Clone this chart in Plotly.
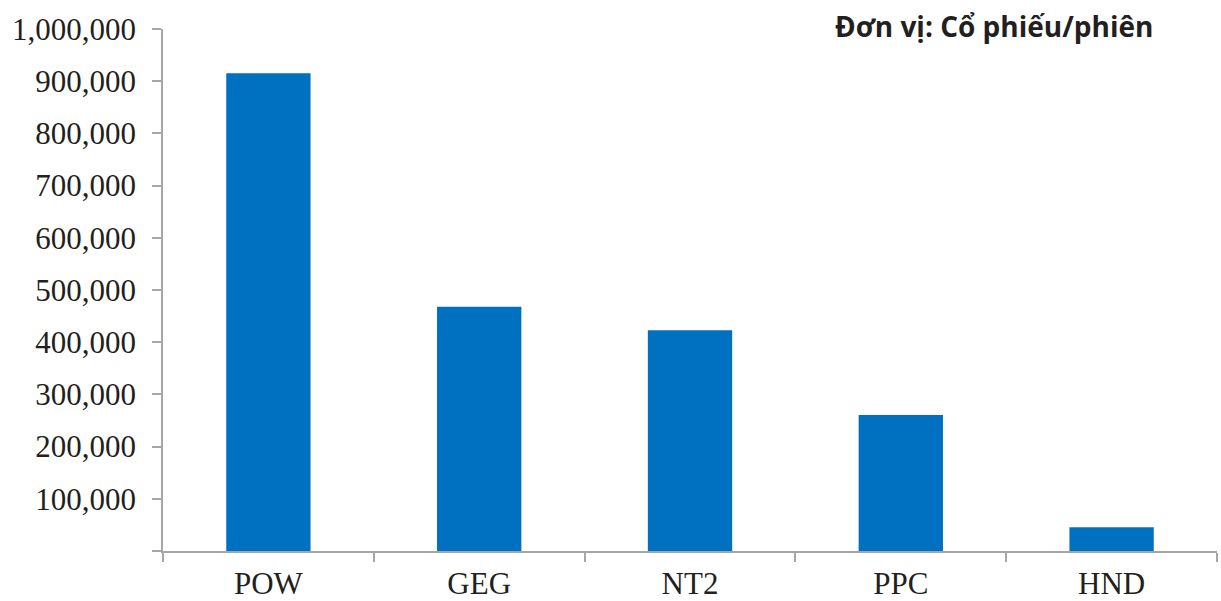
import plotly.graph_objects as go

categories = ["POW", "GEG", "NT2", "PPC", "HND"]
volumes = [915000, 468000, 423000, 260500, 45500]
tick_values = [0, 100000, 200000, 300000, 400000, 500000, 600000, 700000, 800000, 900000, 1000000]
tick_labels = ["", "100,000", "200,000", "300,000", "400,000", "500,000", "600,000",
               "700,000", "800,000", "900,000", "1,000,000"]
unit_label = "Đơn vị: Cổ phiếu/phiên"

axis_color = "#a6a6a6"
serif = "Liberation Serif"

fig = go.Figure(go.Bar(x=categories, y=volumes, marker=dict(color="#0070C0", line=dict(width=0))))

fig.update_layout(
    width=1221, height=601,
    margin=dict(l=163, r=4, t=29, b=50, autoexpand=False),
    plot_bgcolor="white", paper_bgcolor="white",
    bargap=0.6,
    showlegend=False,
    font=dict(family=serif, size=31, color="#231f20"),
)
fig.update_xaxes(
    showline=True, linecolor=axis_color, linewidth=1.5,
    ticks="outside", ticklen=9, tickcolor=axis_color, tickwidth=1.5,
    tickson="boundaries", showgrid=False, automargin=False, ticklabelstandoff=4,
    tickfont=dict(family=serif, size=31, color="#231f20"),
)
fig.update_yaxes(
    range=[0, 1000000], tickmode="array", tickvals=tick_values, ticktext=tick_labels,
    showline=True, linecolor=axis_color, linewidth=1.5,
    ticks="outside", ticklen=9, tickcolor=axis_color, tickwidth=1.5,
    showgrid=False, zeroline=False, ticklabelstandoff=10, automargin=False,
    tickfont=dict(family=serif, size=31, color="#231f20"),
)
fig.add_annotation(
    text="<b>" + unit_label + "</b>", xref="paper", yref="paper",
    x=(1155 - 163) / 1054, y=(551 - 26) / 522, xanchor="right", yanchor="middle",
    showarrow=False, font=dict(family="Open Sans", size=28, color="#231f20"),
)

fig.write_html("out.html", config={"displayModeBar": False},
               post_script="document.body.style.margin='0';document.body.style.overflow='hidden';")
